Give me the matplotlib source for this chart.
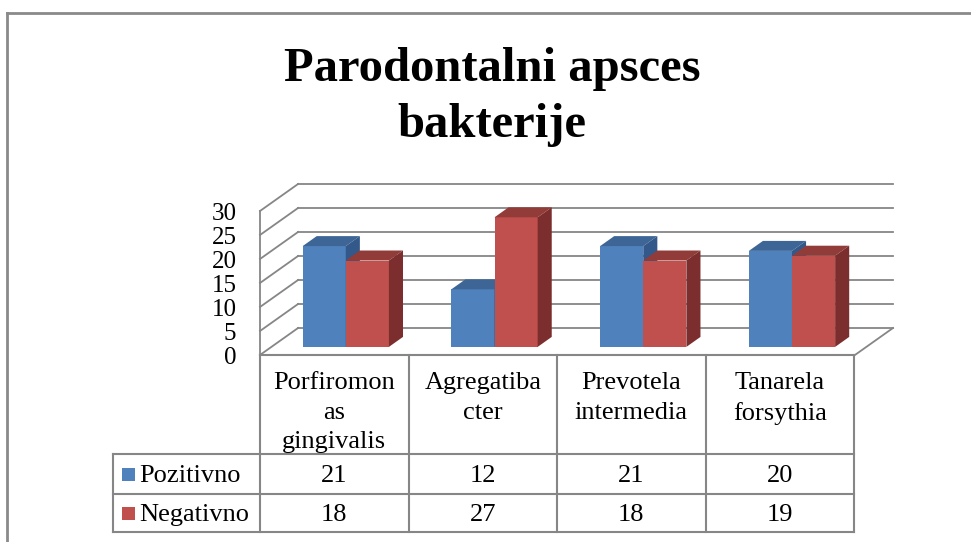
import matplotlib.pyplot as plt
from matplotlib.patches import Rectangle, Polygon
from matplotlib.lines import Line2D

plt.rcParams['font.family'] = ['Liberation Serif', 'DejaVu Serif']

categories = ["Porfiromon\nas\ngingivalis", "Agregatiba\ncter", "Prevotela\nintermedia", "Tanarela\nforsythia"]
series_names = ["Pozitivno", "Negativno"]
pozitivno = [21, 12, 21, 20]
negativno = [18, 27, 18, 19]
y_ticks = [0, 5, 10, 15, 20, 25, 30]

front_colors = ["#4f81bd", "#c0504d"]
top_colors = ["#3d6696", "#923c3a"]
side_colors = ["#33588a", "#7b2e2d"]
grid_color = "#868686"

W, H = 971, 542
fig = plt.figure(figsize=(W / 100, H / 100), dpi=100)

#----------------------------------------------------------------------
# geometry (pixels of the reference picture)
px_cat = 148.5          # width of one category
px_unit = 4.8           # pixels per value unit
DX = 38 / px_cat        # depth offset in x (category units)
DY = 27 / px_unit       # depth offset in y (value units)
f0, fd = 0.3, 0.37      # bar front plane and bar depth, fraction of depth
bw = 0.29               # bar width

ax = fig.add_axes([260 / W, 1 - 355 / H, (893 - 260) / W, (355 - 184) / H])
ax.set_xlim(0, 4 + DX)
ax.set_ylim(0, (355 - 184) / px_unit)
for s in ax.spines.values():
    s.set_visible(False)
ax.set_xticks([])
ax.set_yticks(y_ticks)
ax.tick_params(axis='y', length=0, pad=17, labelsize=18)

# back wall and side wall gridlines
for v in y_ticks:
    ax.plot([DX, 4 + DX], [v + DY, v + DY], color=grid_color, lw=1.3, zorder=1, clip_on=False)
    ax.plot([0, DX], [v, v + DY], color=grid_color, lw=1.3, zorder=1, clip_on=False)
ax.plot([0, 0], [0, y_ticks[-1]], color=grid_color, lw=1.3, zorder=1, clip_on=False)
ax.plot([4, 4 + DX], [0, DY], color=grid_color, lw=1.3, zorder=1, clip_on=False)

# 3d-looking bars
for s, vals in enumerate([pozitivno, negativno]):
    for i, v in enumerate(vals):
        x0 = i + 0.5 - bw + s * bw + f0 * DX
        y0 = f0 * DY
        ddx, ddy = fd * DX, fd * DY
        z = 3 + i * 2 + s
        ax.add_patch(Rectangle((x0, y0), bw, v, facecolor=front_colors[s], edgecolor='none', zorder=z))
        ax.add_patch(Polygon([(x0, y0 + v), (x0 + bw, y0 + v), (x0 + bw + ddx, y0 + v + ddy), (x0 + ddx, y0 + v + ddy)],
                             closed=True, facecolor=top_colors[s], edgecolor='none', zorder=z))
        ax.add_patch(Polygon([(x0 + bw, y0), (x0 + bw + ddx, y0 + ddy), (x0 + bw + ddx, y0 + v + ddy), (x0 + bw, y0 + v)],
                             closed=True, facecolor=side_colors[s], edgecolor='none', zorder=z))

#----------------------------------------------------------------------
# data table under the chart
tab = fig.add_axes([113 / W, 1 - 532 / H, (854 - 113) / W, (532 - 355) / H])
x_left = (113 - 260) / px_cat
tab.set_xlim(x_left, 4)
tab.set_ylim(177, 0)
tab.axis('off')
rows = [0, 99, 139, 177]
lk = dict(color=grid_color, lw=1.5, clip_on=False)
tab.plot([0, 4], [0, 0], **lk)
for r in rows[1:]:
    tab.plot([x_left, 4], [r, r], **lk)
for c in range(5):
    tab.plot([c, c], [0, 177], **lk)
tab.plot([x_left, x_left], [99, 177], **lk)

for i, name in enumerate(categories):
    tab.text(i + 0.5, 17, name, ha='center', va='top', fontsize=19, linespacing=1.45)

for s, vals in enumerate([pozitivno, negativno]):
    yc = (rows[s + 1] + rows[s + 2]) / 2
    for i, v in enumerate(vals):
        tab.text(i + 0.5, yc + 2, str(v), ha='center', va='center', fontsize=19)
    tab.add_patch(Rectangle(((122 - 260) / px_cat, yc - 6.5), 13 / px_cat, 13,
                            facecolor=front_colors[s], edgecolor='none'))
    tab.text((139 - 260) / px_cat, yc + 2, series_names[s], ha='left', va='center', fontsize=19)

#----------------------------------------------------------------------
fig.text(492 / W, 1 - 97 / H, "Parodontalni apsces\nbakterije", ha='center', va='center',
         fontsize=35, fontweight='bold', linespacing=1.36)

# outer chart frame
fig.add_artist(Line2D([7 / W, 7 / W], [0, 1 - 13 / H], color="#8a8a8a", lw=2))
fig.add_artist(Line2D([7 / W, 1], [1 - 13 / H, 1 - 13 / H], color="#8a8a8a", lw=2))

fig.savefig("out.png", dpi=100)
